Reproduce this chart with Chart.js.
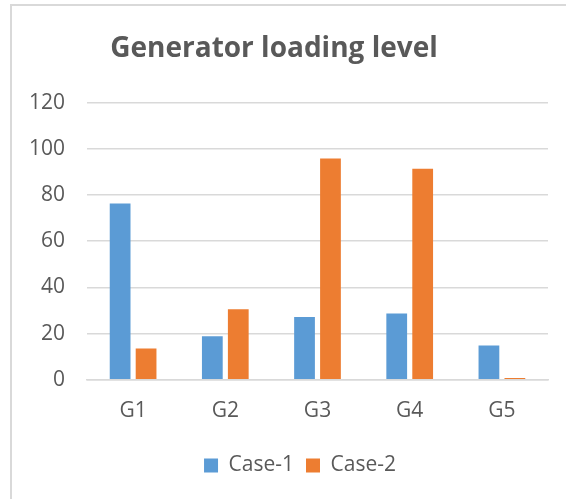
<!DOCTYPE html>
<html>
<head>
<meta charset="utf-8">
<title>Generator loading level</title>
<script src="https://cdn.jsdelivr.net/npm/chart.js@4"></script>
<style>
  html, body { margin: 0; padding: 0; background: #fff; }
  #wrap { position: relative; width: 566px; height: 499px; }
  #frame {
    position: absolute; left: 10px; top: 4px; right: -4px; bottom: -4px;
    border-left: 2px solid #d9d9d9; border-top: 2px solid #d9d9d9;
  }
  #chart { position: absolute; left: 0; top: 0; }
</style>
</head>
<body>
<div id="wrap">
  <div id="frame"></div>
  <canvas id="chart" width="566" height="499"></canvas>
</div>
<script>
/* ================================
   Data
   ================================ */
const generators = ["G1", "G2", "G3", "G4", "G5"];
const case1 = [76.3, 18.8, 27.2, 28.7, 14.9];
const case2 = [13.6, 30.5, 95.8, 91.4, 0.8];
const yTicks = [0, 20, 40, 60, 80, 100, 120];

const textColor = "#595959";
const gridColor = "#d9d9d9";
const labelFont = { family: "'Open Sans', sans-serif", size: 21 };

// nudge the legend row a little to the right of the canvas centre
const legendShift = {
  id: "legendShift",
  afterLayout(chart) {
    const lg = chart.legend;
    if (!lg) return;
    lg.left += 26;
    lg.right += 26;
  }
};

/* ================================
   Chart
   ================================ */
const ctx = document.getElementById("chart").getContext("2d");
new Chart(ctx, {
  type: "bar",
  data: {
    labels: generators,
    datasets: [
      { label: "Case-1", data: case1, backgroundColor: "#5b9bd5" },
      { label: "Case-2", data: case2, backgroundColor: "#ed7d31" }
    ]
  },
  plugins: [legendShift],
  options: {
    responsive: false,
    animation: false,
    categoryPercentage: 0.563,
    barPercentage: 0.8,
    layout: { padding: { left: 0, right: 18, top: 0, bottom: 13 } },
    plugins: {
      title: {
        display: true,
        text: "Generator loading level",
        color: textColor,
        font: { family: "'Open Sans', sans-serif", size: 28, weight: "bold" },
        padding: { top: 32, bottom: 37 }
      },
      legend: {
        position: "bottom",
        labels: {
          color: textColor,
          font: labelFont,
          boxWidth: 14,
          boxHeight: 14,
          padding: 12
        }
      },
      tooltip: { enabled: false }
    },
    scales: {
      x: {
        grid: { display: false, drawTicks: false },
        border: { display: true, color: gridColor, width: 1.5 },
        ticks: { color: textColor, font: labelFont, padding: 19 }
      },
      y: {
        min: 0,
        max: 120,
        afterFit: s => { s.width = 87; },
        afterBuildTicks: s => { s.ticks = yTicks.map(v => ({ value: v })); },
        grid: { color: gridColor, lineWidth: 1.5, drawTicks: false },
        border: { display: false },
        ticks: { color: textColor, font: labelFont, padding: 22 }
      }
    }
  }
});
</script>
</body>
</html>
